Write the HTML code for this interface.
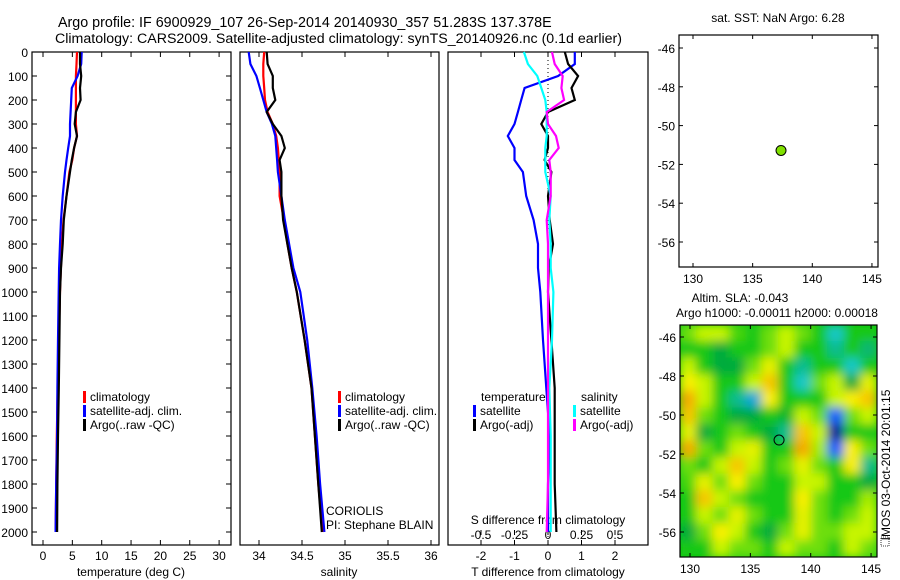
<!DOCTYPE html>
<html><head><meta charset="utf-8"><style>
html,body{margin:0;padding:0;background:#fff;}
svg{display:block;font-family:"Liberation Sans",sans-serif;}
text{fill:#000;}
</style></head><body>
<svg id="chart" width="900" height="580" viewBox="0 0 900 580">
<text x="58" y="27" font-size="14.3">Argo profile: IF 6900929_107 26-Sep-2014 20140930_357 51.283S 137.378E</text>
<text x="55" y="43" font-size="14.2">Climatology: CARS2009. Satellite-adjusted climatology: synTS_20140926.nc (0.1d earlier)</text>
<g id="g"></g>
</svg>
<script>
const depths=[0,50,100,150,200,250,300,350,400,450,500,600,700,800,900,1000,1200,1400,1600,1800,2000];
const tClim=[5.8,5.7,5.6,5.6,5.6,5.6,5.6,5.8,5.3,5.0,4.5,4.0,3.5,3.2,3.05,2.9,2.7,2.5,2.35,2.25,2.15];
const tSat=[6.6,6.5,5.9,4.9,4.8,4.7,4.6,4.6,4.3,4.0,3.75,3.35,3.07,2.9,2.75,2.67,2.55,2.45,2.4,2.25,2.15];
const tArgo=[6.3,6.3,6.5,6.3,6.4,5.6,5.4,5.8,5.3,4.9,4.6,4.0,3.55,3.35,3.07,2.9,2.8,2.7,2.55,2.45,2.4];
const sClim=[34.06,34.05,34.05,34.06,34.07,34.1,34.16,34.2,34.22,34.23,34.24,34.24,34.29,34.33,34.38,34.44,34.53,34.61,34.65,34.69,34.74];
const sSat=[33.88,33.9,33.97,34.01,34.05,34.09,34.15,34.19,34.2,34.21,34.22,34.26,34.3,34.35,34.4,34.48,34.56,34.62,34.67,34.71,34.76];
const sArgo=[34.09,34.1,34.16,34.16,34.19,34.09,34.16,34.26,34.3,34.24,34.26,34.26,34.28,34.33,34.38,34.44,34.53,34.61,34.65,34.69,34.73];
const depthTicks=[0,100,200,300,400,500,600,700,800,900,1000,1100,1200,1300,1400,1500,1600,1700,1800,1900,2000];
const tTicks=[0,5,10,15,20,25,30];
const sTicks=[34,34.5,35,35.5,36];
const dTTicks=[-2,-1,0,1,2];
const dSTicks=[-0.5,-0.25,0,0.25,0.5];
const dSTickLabels=["-0.5","-0.25","0","0.25","0.5"];
const lonTicks=[130,135,140,145];
const latTicks=[-46,-48,-50,-52,-54,-56];
const argoLon=137.378, argoLat=-51.283;
const sla=[
[0.5,1,1,0.3,0,0.5,1,0.5,0,-1,0,0],
[0,0,-0.5,0,0,0.5,1,0,0,-0.8,0,-0.7],
[1,0,-0.5,-0.5,0.5,1.3,0,-0.8,0,0,-1,0],
[1.5,1,0,0,1,1.8,0,-1,0.5,1,-0.5,1.3],
[2,1,0,-0.8,-1.3,1.5,0,0,0,1,1.5,1.8],
[1.8,0.5,0,-0.5,-0.5,0,-0.3,1,0.5,-2,0.5,1],
[1.3,-0.5,0,0.5,0,-0.5,-0.8,1.8,1,-3,0,0],
[2,0.5,0,1,1.3,0,0,2,0.8,-2,1.5,0.5],
[0.5,0,1,1.8,1,0,0.5,1.3,0.5,0,1.5,-0.8],
[0.3,1.3,0.5,1.5,0.5,0,0,1,1,0,0,-0.5],
[0,1.8,1,0.5,0,0,0,1.5,0.5,0,0,0.8],
[0,1,0.5,1.3,0.5,0,0,1.3,0.5,0,0.5,1],
[-0.5,0.5,1.5,1,0,-0.5,0.5,1.3,0.5,0.5,1,1],
[0,0,1,0.5,0.5,0,1,0.5,0.5,0,1,0.5]];

const NS='http://www.w3.org/2000/svg';
const G=document.getElementById('g');
function el(tag,attrs,parent){const e=document.createElementNS(NS,tag);for(const k in attrs)e.setAttribute(k,attrs[k]);(parent||G).appendChild(e);return e;}
function txt(x,y,s,size,anchor,name){const t=el('text',{x:x,y:y,'font-size':size,'text-anchor':anchor||'start'});t.textContent=s;


return t;}
const yD=d=>52+0.24*d;
const xT=v=>43+5.87*v;
const xS=v=>259+86*(v-34);
const xDT=v=>548+33.5*v;
const xDS=v=>548+134*v;
const BOT=545;

function frame(x0,x1,y0,y1,name){const r=el('rect',{x:x0,y:y0,width:x1-x0,height:y1-y0,fill:'none',stroke:'#000','stroke-width':1.2});

}
function line(vals,xf,color,name){const pts=depths.map((d,i)=>xf(vals[i]).toFixed(1)+','+yD(d).toFixed(1)).join(' ');
const p=el('polyline',{points:pts,fill:'none',stroke:color,'stroke-width':2.2});

}
function legend(x,y,color,label,name){const r=el('rect',{x:x,y:y-10,width:3,height:12,fill:color});


txt(x+7,y,label,12,'start',name);}

frame(32,231,52,BOT,'temperature-panel');
frame(240,439,52,BOT,'salinity-panel');
frame(448,648,52,BOT,'difference-panel');
depthTicks.forEach(d=>{const y=yD(d);
el('line',{x1:32,x2:37,y1:y,y2:y,stroke:'#000'});el('line',{x1:226,x2:231,y1:y,y2:y,stroke:'#000'});
txt(28,y+5,String(d),12,'end','depth-tick-label');});
tTicks.forEach(v=>{const x=xT(v);el('line',{x1:x,x2:x,y1:52,y2:57,stroke:'#000'});el('line',{x1:x,x2:x,y1:BOT-5,y2:BOT,stroke:'#000'});txt(x,560,String(v),12,'middle','temperature-tick-label');});
sTicks.forEach(v=>{const x=xS(v);el('line',{x1:x,x2:x,y1:52,y2:57,stroke:'#000'});el('line',{x1:x,x2:x,y1:BOT-5,y2:BOT,stroke:'#000'});txt(x,560,String(v),12,'middle','salinity-tick-label');});
dTTicks.forEach(v=>{const x=xDT(v);el('line',{x1:x,x2:x,y1:52,y2:57,stroke:'#000'});el('line',{x1:x,x2:x,y1:BOT-5,y2:BOT,stroke:'#000'});txt(x,560,String(v),12,'middle','t-diff-tick-label');});
dSTicks.forEach((v,i)=>{const x=xDS(v);el('line',{x1:x,x2:x,y1:BOT-15,y2:BOT-10,stroke:'#000'});txt(x,539,dSTickLabels[i],12,'middle','s-diff-tick-label');});
txt(131,576,'temperature (deg C)',12,'middle','temperature-axis-title');
txt(339,576,'salinity',12,'middle','salinity-axis-title');
txt(548,576,'T difference from climatology',12,'middle','t-diff-axis-title');
txt(548,524,'S difference from climatology',12,'middle','s-diff-axis-title');

line(tClim,xT,'#ff0000','temperature-climatology-line');
line(tSat,xT,'#0000ff','temperature-satellite-line');
line(tArgo,xT,'#000000','temperature-argo-line');
line(sClim,xS,'#ff0000','salinity-climatology-line');
line(sSat,xS,'#0000ff','salinity-satellite-line');
line(sArgo,xS,'#000000','salinity-argo-line');
el('line',{x1:548,x2:548,y1:52,y2:BOT,stroke:'#000','stroke-dasharray':'1,3'});
line(tSat.map((v,i)=>v-tClim[i]),xDT,'#0000ff','t-diff-satellite-line');
line(tArgo.map((v,i)=>v-tClim[i]),xDT,'#000000','t-diff-argo-line');
line(sSat.map((v,i)=>v-sClim[i]),xDS,'#00ffff','s-diff-satellite-line');
line(sArgo.map((v,i)=>v-sClim[i]),xDS,'#ff00ff','s-diff-argo-line');

legend(83,401,'#ff0000','climatology','legend-t-climatology');
legend(83,415,'#0000ff','satellite-adj. clim.','legend-t-satellite');
legend(83,429,'#000000','Argo(..raw -QC)','legend-t-argo');
legend(338,401,'#ff0000','climatology','legend-s-climatology');
legend(338,415,'#0000ff','satellite-adj. clim.','legend-s-satellite');
legend(338,429,'#000000','Argo(..raw -QC)','legend-s-argo');
txt(481,401,'temperature',12,'start','legend-temperature-heading');
txt(581,401,'salinity',12,'start','legend-salinity-heading');
legend(473,415,'#0000ff','satellite','legend-dt-satellite');
legend(473,429,'#000000','Argo(-adj)','legend-dt-argo');
legend(573,415,'#00ffff','satellite','legend-ds-satellite');
legend(573,429,'#ff00ff','Argo(-adj)','legend-ds-argo');
txt(326,515,'CORIOLIS',12,'start','data-centre-label');
txt(326,529,'PI: Stephane BLAIN',12,'start','pi-label');

const m1={x0:679,x1:878,y0:35,y1:267,lx:v=>693+(v-130)*11.93,ly:v=>48+(-46-v)*19.4};
const m2={x0:680,x1:877,y0:325,y1:557,lx:v=>690+(v-130)*12.07,ly:v=>337+(-46-v)*19.5};
function mapAxes(m,name){frame(m.x0,m.x1,m.y0,m.y1,name);
lonTicks.forEach(v=>{const x=m.lx(v);el('line',{x1:x,x2:x,y1:m.y0,y2:m.y0+4,stroke:'#000'});el('line',{x1:x,x2:x,y1:m.y1-4,y2:m.y1,stroke:'#000'});txt(x,m.y1+16,String(v),12,'middle',name+'-lon-label');});
latTicks.forEach(v=>{const y=m.ly(v);el('line',{x1:m.x0,x2:m.x0+4,y1:y,y2:y,stroke:'#000'});el('line',{x1:m.x1-4,x2:m.x1,y1:y,y2:y,stroke:'#000'});txt(m.x0-4,y+5,String(v),12,'end',name+'-lat-label');});}
mapAxes(m1,'sst-map');
txt(778,22,'sat. SST: NaN Argo: 6.28',12,'middle','sst-map-title');
const pt=el('circle',{cx:m1.lx(argoLon),cy:m1.ly(argoLat),r:5,fill:'#80e000',stroke:'#000','stroke-width':1});



const defs=el('defs',{});
const cp=el('clipPath',{id:'hc'},defs);el('rect',{x:m2.x0,y:m2.y0,width:m2.x1-m2.x0,height:m2.y1-m2.y0},cp);
const fl=el('filter',{id:'bl',x:'-10%',y:'-10%',width:'120%',height:'120%'},defs);el('feGaussianBlur',{stdDeviation:5},fl);
const stops=[[-3,[0,0,150]],[-2,[0,90,255]],[-1,[20,200,200]],[-0.5,[0,170,60]],[0,[20,200,20]],[1,[200,245,0]],[1.5,[250,240,0]],[2,[245,170,0]]];
function col(v){for(let i=0;i<stops.length-1;i++){const a=stops[i],b=stops[i+1];if(v<=b[0]){const t=Math.max(0,(v-a[0])/(b[0]-a[0]));return 'rgb('+a[1].map((c,k)=>Math.round(c+(b[1][k]-c)*t)).join(',')+')';}}return 'rgb(245,170,0)';}
const hg=el('g',{'clip-path':'url(#hc)'});


el('rect',{x:m2.x0,y:m2.y0,width:m2.x1-m2.x0,height:m2.y1-m2.y0,fill:col(0)},hg);
const inner=el('g',{filter:'url(#bl)'},hg);
const nr=sla.length,nc=sla[0].length,cw=(m2.x1-m2.x0)/nc,ch=(m2.y1-m2.y0)/nr;
sla.forEach((row,r)=>row.forEach((v,c)=>{const cell=el('rect',{x:m2.x0+c*cw-0.5,y:m2.y0+r*ch-0.5,width:cw+1,height:ch+1,fill:col(v)},inner);

}));
mapAxes(m2,'sla-map');
const pc=el('circle',{cx:m2.lx(argoLon),cy:m2.ly(argoLat),r:5,fill:'none',stroke:'#000','stroke-width':1});


txt(740,302,'Altim. SLA: -0.043',12,'middle','sla-map-title');
txt(777,317,'Argo h1000: -0.00011 h2000: 0.00018',12,'middle','sla-map-subtitle');
const vt=txt(0,0,'IMOS 03-Oct-2014 20:01:15',12,'middle','imos-timestamp');
vt.setAttribute('transform','translate(890,465) rotate(-90)');
el('rect',{x:881,y:537,width:8,height:9,fill:'none',stroke:'#000','stroke-width':0.8,'stroke-dasharray':'1,1'});
</script>
</body></html>
